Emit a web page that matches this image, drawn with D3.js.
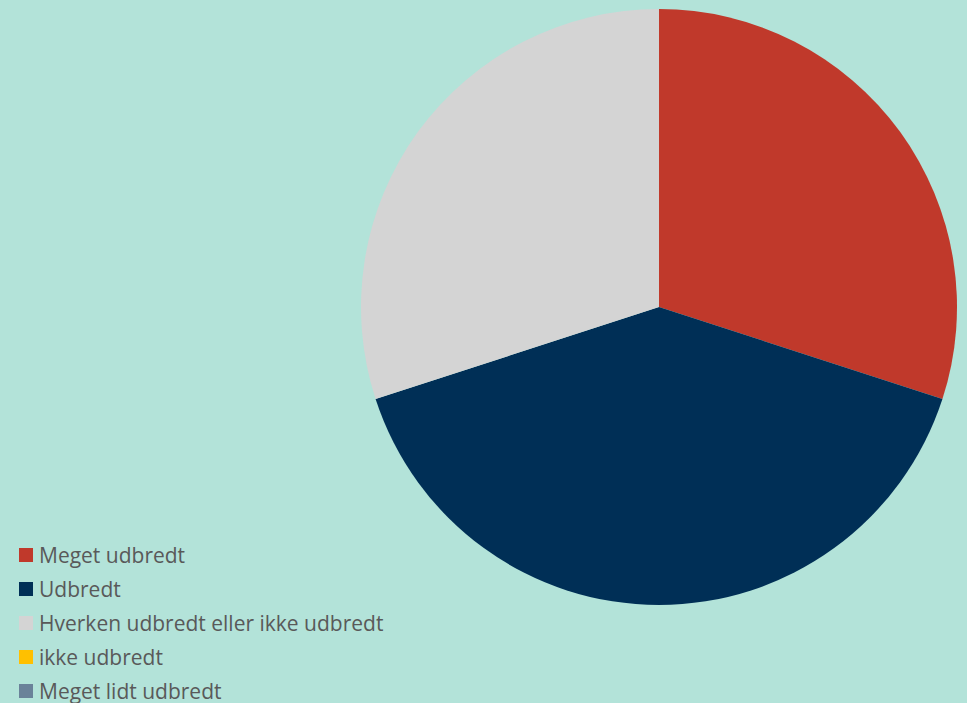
<!DOCTYPE html>
<html>
<head>
<meta charset="utf-8">
<script src="https://cdn.jsdelivr.net/npm/d3@7"></script>
<style>
  body { margin: 0; background: #b3e3d9; }
  svg { display: block; }
</style>
</head>
<body>
<div id="chart"></div>
<script>
var width = 967, height = 703;

let categories = ['Meget udbredt', 'Udbredt', 'Hverken udbredt eller ikke udbredt', 'ikke udbredt', 'Meget lidt udbredt'];
let values = [3, 4, 3, 0, 0];
let colors = ['#c0392b', '#002f56', '#d4d4d4', '#ffc000', '#6a8299'];

let svg = d3.select('#chart')
  .append('svg')
  .attr('width', width)
  .attr('height', height)

svg.append('rect')
  .attr('width', width)
  .attr('height', height)
  .attr('fill', '#b3e3d9')

let data = categories.map((c, i) => ({ name: c, value: values[i], color: colors[i] }));

let pie = d3.pie().sort(null).value(d => d.value);
let arc = d3.arc().innerRadius(0).outerRadius(298);

let g = svg.append('g')
  .attr('transform', 'translate(659,307)')

g.selectAll('path')
  .data(pie(data))
  .enter()
  .append('path')
  .attr('d', arc)
  .attr('fill', d => d.data.color)

// legend
let yScale = d3.scalePoint()
  .domain(categories)
  .range([555, 691]);

let legend = svg.append('g')
  .selectAll('g')
  .data(data)
  .enter()
  .append('g')
  .attr('transform', d => `translate(19, ${yScale(d.name)})`)

legend.append('rect')
  .attr('y', -7)
  .attr('width', 14)
  .attr('height', 14)
  .attr('fill', d => d.color)

legend.append('text')
  .attr('x', 20)
  .attr('dy', '0.36em')
  .style('font-family', '"Open Sans", sans-serif')
  .style('font-size', '21px')
  .attr('fill', '#595959')
  .text(d => d.name)
</script>
</body>
</html>
